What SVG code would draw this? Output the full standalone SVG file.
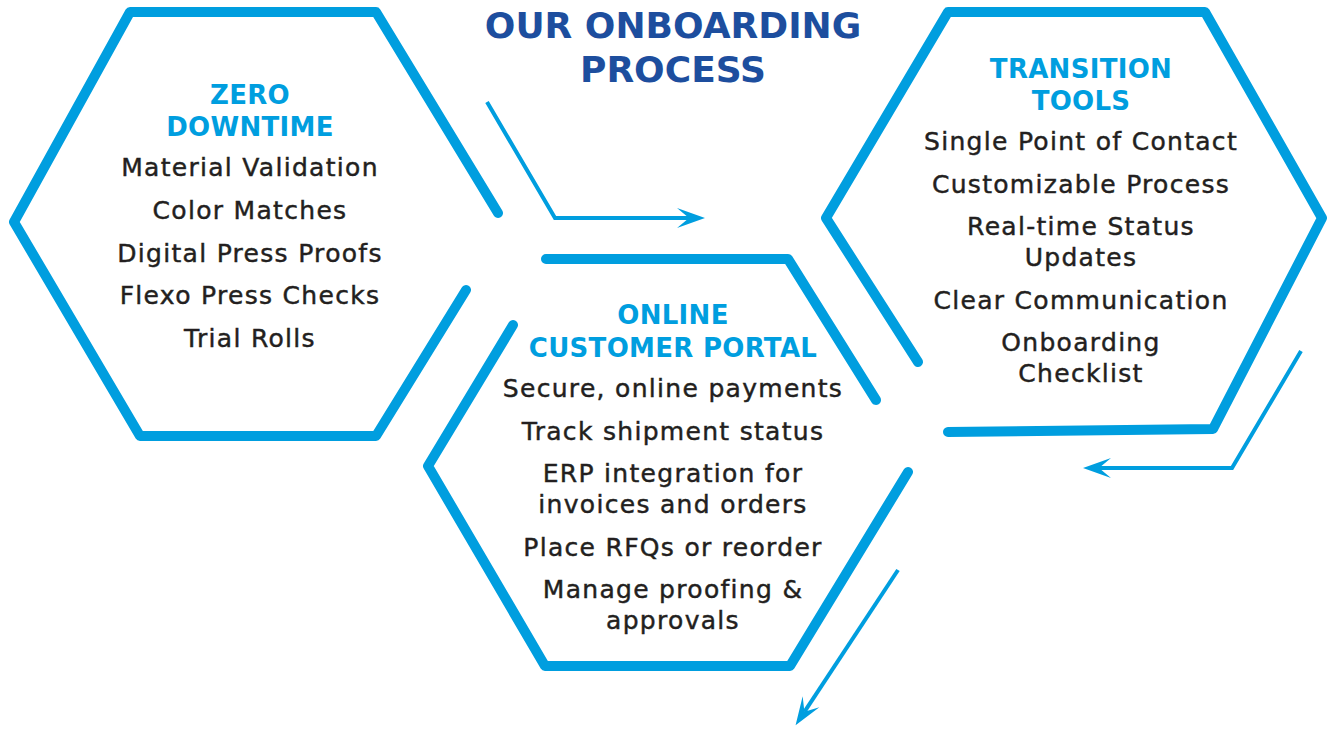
<svg xmlns="http://www.w3.org/2000/svg" width="1327" height="729" viewBox="0 0 1327 729">
<style>
.hex{fill:none;stroke:#009EDF;stroke-width:10;stroke-linecap:round;stroke-linejoin:round}
.arr{fill:none;stroke:#009EDF;stroke-width:4;stroke-linejoin:miter}
.title{font-family:"DejaVu Sans","Liberation Sans",sans-serif;font-weight:bold;font-size:36px;fill:#1D4E9E;text-anchor:middle}
.head{font-family:"DejaVu Sans","Liberation Sans",sans-serif;font-weight:bold;font-size:26px;fill:#009EDF;text-anchor:middle;letter-spacing:0.3px}
.body{font-family:"DejaVu Sans","Liberation Sans",sans-serif;font-size:25px;fill:#231F20;stroke:#231F20;stroke-width:0.45px;text-anchor:middle;letter-spacing:1.3px}
</style>
<defs>
<marker id="ah" markerUnits="userSpaceOnUse" viewBox="-30 -12 32 24" refX="-16" refY="0" markerWidth="32" markerHeight="24" orient="auto">
<path d="M0,0 L-28,-10 L-16,0 L-28,10 Z" fill="#009EDF"/>
</marker>
</defs>
<rect width="1327" height="729" fill="#ffffff"/>
<g id="title">
<text class="title" x="673" y="38">OUR ONBOARDING</text>
<text class="title" x="673" y="82">PROCESS</text>
</g>
<g id="connectors">
<path class="arr" d="M487,102 L555,218 L689,218" marker-end="url(#ah)"/>
<path class="arr" d="M1301,351 L1232,468 L1099,468" marker-end="url(#ah)"/>
<path class="arr" d="M898,570 L804.4,711.8" marker-end="url(#ah)"/>
</g>
<g id="zero-downtime">
<path class="hex" d="M498,213 L376,12 L130,12 L14,222 L140,436 L376,436 L466,290"/>
<text class="head" x="250" y="104">ZERO</text>
<text class="head" x="250" y="136">DOWNTIME</text>
<text class="body" x="250" y="176">Material Validation</text>
<text class="body" x="250" y="219">Color Matches</text>
<text class="body" x="250" y="262">Digital Press Proofs</text>
<text class="body" x="250" y="304">Flexo Press Checks</text>
<text class="body" x="250" y="347">Trial Rolls</text>
</g>
<g id="online-customer-portal">
<path class="hex" d="M876,400 L788,259 L546,259"/>
<path class="hex" d="M513,325 L428,466 L545,666 L790,666 L908,472"/>
<text class="head" x="673" y="324">ONLINE</text>
<text class="head" x="673" y="357">CUSTOMER PORTAL</text>
<text class="body" x="673" y="397">Secure, online payments</text>
<text class="body" x="673" y="440">Track shipment status</text>
<text class="body" x="673" y="482">ERP integration for</text>
<text class="body" x="673" y="513">invoices and orders</text>
<text class="body" x="673" y="556">Place RFQs or reorder</text>
<text class="body" x="673" y="598">Manage proofing &amp;</text>
<text class="body" x="673" y="629">approvals</text>
</g>
<g id="transition-tools">
<path class="hex" d="M918,362 L826,218 L948,12 L1205,12 L1322,218 L1213,429 L948,432"/>
<text class="head" x="1081" y="78">TRANSITION</text>
<text class="head" x="1081" y="110">TOOLS</text>
<text class="body" x="1081" y="150">Single Point of Contact</text>
<text class="body" x="1081" y="193">Customizable Process</text>
<text class="body" x="1081" y="235">Real-time Status</text>
<text class="body" x="1081" y="266">Updates</text>
<text class="body" x="1081" y="309">Clear Communication</text>
<text class="body" x="1081" y="351">Onboarding</text>
<text class="body" x="1081" y="382">Checklist</text>
</g>
</svg>
